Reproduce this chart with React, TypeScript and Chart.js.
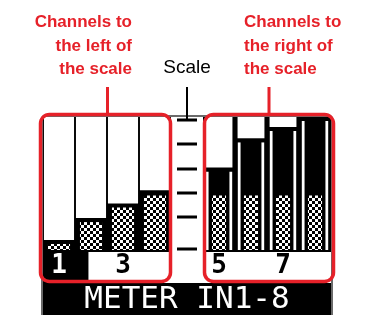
import React, { useEffect, useRef } from 'react';
import { Chart, registerables } from 'chart.js';

Chart.register(...registerables);

// ---- data ----
const channels = ['1', '2', '3', '4', 'scale', '5', '6', '7', '8'];
const tickLabels = ['1', '', '3', '', '', '5', '', '7', ''];
const leftLevels: (number | null)[] = [7.5, 24, 35, 45, null, null, null, null, null];
const rightLevels: (number | null)[] = [null, null, null, null, null, 62, 84, 92.5, 100];
const scaleMarks = [98, 80, 61, 43, 25, 1];
const capSize = 3;
const patternLimit = 41;
const levelMax = 100;
const selectedChannel = 0;

const RED = '#E62129';

const mk = (levels: (number | null)[], f: (v: number) => [number, number]) =>
  levels.map((v) => (v == null ? null : f(v)));

const lcdPlugin = {
  id: 'lcd',
  beforeDraw(chart: any) {
    const { ctx, chartArea: ca, scales } = chart;
    const x = scales.x;
    const cw = x.getPixelForValue(1) - x.getPixelForValue(0);
    const half = cw / 2;
    ctx.save();
    ctx.fillStyle = '#fff';
    ctx.fillRect(0, 0, chart.width, chart.height);
    // LCD screen body
    ctx.fillStyle = '#6a6a6a';
    ctx.beginPath();
    ctx.roundRect(ca.left - 2, ca.top - 2, ca.right - ca.left + 4, chart.height - ca.top + 6, 4);
    ctx.fill();
    ctx.fillStyle = '#000';
    ctx.fillRect(ca.left, ca.top, ca.right - ca.left, chart.height - ca.top);
    // scale column
    const sx = x.getPixelForValue(4);
    ctx.fillStyle = '#fff';
    ctx.fillRect(sx - half, ca.top, cw, x.bottom - ca.top);
    // label row
    ctx.fillRect(ca.left, ca.bottom + 2, ca.right - ca.left, x.bottom - ca.bottom - 2);
    // selected channel box
    ctx.fillStyle = '#000';
    const bx = x.getPixelForValue(selectedChannel) - half;
    ctx.fillRect(bx, ca.bottom + 2, cw * 1.42, x.bottom - ca.bottom - 2);
    ctx.restore();
  },
  afterDraw(chart: any) {
    const { ctx, chartArea: ca, scales } = chart;
    const x = scales.x;
    const y = scales.y;
    const cw = x.getPixelForValue(1) - x.getPixelForValue(0);
    const half = cw / 2;
    const sx = x.getPixelForValue(4);
    ctx.save();
    // scale marks
    ctx.fillStyle = '#000';
    scaleMarks.forEach((v) => {
      const py = y.getPixelForValue(v);
      ctx.fillRect(sx - 10, Math.round(py) - 1.5, 20, 3);
    });
    // pointer line to the scale
    ctx.fillRect(sx - 1, 87, 2, y.getPixelForValue(scaleMarks[0]) - 87);
    // red boxes
    ctx.strokeStyle = RED;
    ctx.lineWidth = 3.5;
    const top = ca.top - 2.5;
    const bottom = x.bottom - 1.5;
    const lx0 = ca.left - 2.5;
    const lx1 = x.getPixelForValue(3) + half - 0.5;
    const rx0 = x.getPixelForValue(5) - half + 1.5;
    const rx1 = ca.right + 2.5;
    ctx.beginPath();
    ctx.roundRect(lx0, top, lx1 - lx0, bottom - top, 9);
    ctx.stroke();
    ctx.beginPath();
    ctx.roundRect(rx0, top, rx1 - rx0, bottom - top, 9);
    ctx.stroke();
    // red pointer lines
    ctx.fillStyle = RED;
    ctx.fillRect(106, 87, 3, top - 87);
    ctx.fillRect((rx0 + rx1) / 2 - 1.5, 87, 3, top - 87);
    ctx.restore();
  },
};

export default function App() {
  const ref = useRef<HTMLCanvasElement | null>(null);

  useEffect(() => {
    const canvas = ref.current;
    if (!canvas) return;
    const tile = document.createElement('canvas');
    tile.width = 6;
    tile.height = 6;
    const tc = tile.getContext('2d')!;
    tc.fillStyle = '#000';
    tc.fillRect(0, 0, 6, 6);
    tc.fillStyle = '#fff';
    tc.fillRect(0, 0, 3, 3);
    tc.fillRect(3, 3, 3, 3);
    const pattern = tc.createPattern(tile, 'repeat');

    const common = { categoryPercentage: 1, grouped: false, borderWidth: 0 };

    const chart = new Chart(canvas, {
      type: 'bar',
      data: {
        labels: channels,
        datasets: [
          { ...common, label: 'left empty', data: mk(leftLevels, (v) => [v, levelMax]), backgroundColor: '#fff', barPercentage: 0.94, order: 1 },
          { ...common, label: 'left level', data: mk(leftLevels, (v) => [0, v]), backgroundColor: '#000', barPercentage: 0.94, order: 5 },
          { ...common, label: 'left pattern', data: mk(leftLevels, (v) => [0, Math.min(v - capSize, patternLimit)]), backgroundColor: pattern as any, barPercentage: 0.69, order: 2 },
          { ...common, label: 'right empty', data: mk(rightLevels, (v) => [v, levelMax]), backgroundColor: '#fff', barPercentage: 0.84, order: 1 },
          { ...common, label: 'right level', data: mk(rightLevels, (v) => [0, v]), backgroundColor: '#000', barPercentage: 0.84, order: 5 },
          {
            ...common,
            label: 'right peak',
            data: mk(rightLevels, (v) => [0, v - capSize]),
            backgroundColor: 'rgba(0,0,0,0)',
            borderColor: '#fff',
            borderWidth: { left: 3, right: 3, top: 0, bottom: 0 },
            borderSkipped: false,
            barPercentage: 0.84,
            order: 4,
          },
          { ...common, label: 'right pattern', data: mk(rightLevels, (v) => [0, Math.min(v - capSize, patternLimit)]), backgroundColor: pattern as any, barPercentage: 0.44, order: 2 },
        ] as any,
      },
      options: {
        responsive: false,
        animation: false,
        devicePixelRatio: 1,
        layout: { padding: { left: 43, right: 36, top: 117, bottom: 0 } },
        plugins: {
          legend: { display: false },
          tooltip: { enabled: false },
          title: {
            display: true,
            position: 'bottom',
            text: 'METER IN1-8',
            color: '#fff',
            font: { family: '"DejaVu Sans Mono", monospace', size: 31, weight: 'normal', lineHeight: 1 },
            padding: { top: 1, bottom: 0 },
          },
        },
        scales: {
          x: {
            type: 'category',
            offset: true,
            grid: { display: false, drawTicks: false },
            border: { display: false },
            ticks: {
              autoSkip: false,
              maxRotation: 0,
              padding: 3.5,
              font: { family: '"DejaVu Sans Mono", monospace', size: 26, weight: 'bold', lineHeight: 1 },
              color: (c: any) => (c.index === selectedChannel ? '#fff' : '#000'),
              callback: (_v: any, i: number) => tickLabels[i],
            },
          },
          y: { display: false, min: 0, max: levelMax },
        },
      },
      plugins: [lcdPlugin],
    });
    return () => chart.destroy();
  }, []);

  const redText: React.CSSProperties = {
    position: 'absolute',
    top: 10,
    fontFamily: '"Liberation Sans", Arial, sans-serif',
    fontWeight: 'bold',
    fontSize: 17,
    lineHeight: '23.5px',
    color: RED,
    whiteSpace: 'nowrap',
  };

  return (
    <div style={{ position: 'fixed', left: 0, top: 0, width: 367, height: 315, background: '#fff' }}>
      <canvas ref={ref} width={367} height={315} style={{ display: 'block', width: 367, height: 315 }} />
      <div style={{ ...redText, right: 367 - 132, textAlign: 'right' }}>
        Channels to<br />the left of<br />the scale
      </div>
      <div style={{ ...redText, left: 244, textAlign: 'left' }}>
        Channels to<br />the right of<br />the scale
      </div>
      <div
        style={{
          position: 'absolute',
          top: 57,
          left: 137,
          width: 100,
          textAlign: 'center',
          fontFamily: '"Liberation Sans", Arial, sans-serif',
          fontSize: 19,
          lineHeight: '19px',
          color: '#000',
        }}
      >
        Scale
      </div>
    </div>
  );
}
